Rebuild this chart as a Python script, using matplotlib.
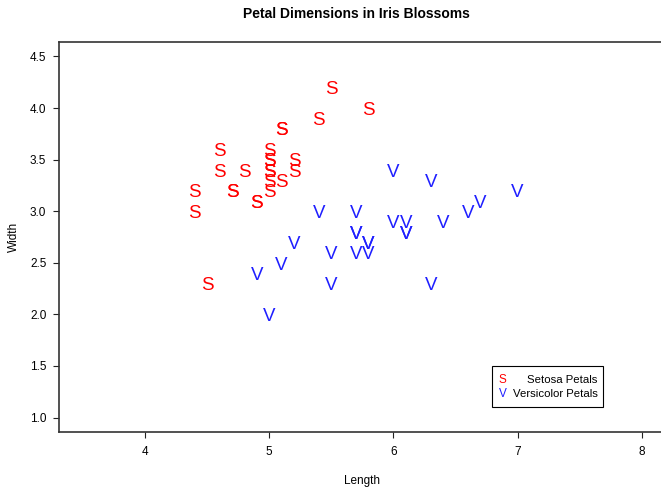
import matplotlib.pyplot as plt
from matplotlib import patches

plt.rcParams['font.family'] = ['Liberation Sans', 'DejaVu Sans']

# sampled sepal measurements (chart calls them petals)
setosa_len = [4.4, 4.4, 4.5, 4.6, 4.6, 4.7, 4.7, 4.8, 4.9, 4.9,
              5.0, 5.0, 5.0, 5.0, 5.0, 5.0, 5.0, 5.1, 5.1, 5.1,
              5.2, 5.2, 5.4, 5.5, 5.8]
setosa_wid = [3.2, 3.0, 2.3, 3.6, 3.4, 3.2, 3.2, 3.4, 3.1, 3.1,
              3.6, 3.5, 3.5, 3.4, 3.4, 3.3, 3.2, 3.8, 3.8, 3.3,
              3.5, 3.4, 3.9, 4.2, 4.0]
versi_len = [6.0, 6.3, 7.0, 6.7, 6.6, 5.4, 5.7, 6.0, 6.1, 6.1,
             6.1, 6.4, 5.7, 5.7, 5.8, 5.8, 5.2, 5.5, 5.7, 5.8,
             5.1, 4.9, 5.5, 6.3, 5.0]
versi_wid = [3.4, 3.3, 3.2, 3.1, 3.0, 3.0, 3.0, 2.9, 2.9, 2.8,
             2.8, 2.9, 2.8, 2.8, 2.7, 2.7, 2.7, 2.6, 2.6, 2.6,
             2.5, 2.4, 2.3, 2.3, 2.0]

x_ticks = [4, 5, 6, 7, 8]
y_ticks = [1.0, 1.5, 2.0, 2.5, 3.0, 3.5, 4.0, 4.5]

fig = plt.figure(figsize=(6.61, 4.88), dpi=100)
ax = fig.add_axes([59.3/661, 56/488, 604.9/661, 390/488])

sym_size = 13.5
def put_letters(xs, ys, letter, color):
    for x, y in zip(xs, ys):
        ax.annotate(letter, (x, y), xytext=(0, -0.36*sym_size), textcoords='offset points',
                    ha='center', va='baseline', fontsize=sym_size, color=color)

put_letters(setosa_len, setosa_wid, 'S', 'red')
put_letters(versi_len, versi_wid, 'V', '#1f1fff')

ax.set_xlim(3.31, 8.18)
ax.set_ylim(0.86, 4.64)
ax.set_xticks(x_ticks)
ax.set_xticklabels([str(t) for t in x_ticks])
ax.set_yticks(y_ticks)
ax.set_yticklabels(['%.1f' % t for t in y_ticks])
ax.tick_params(labelsize=8.5, length=4.3, width=0.8, color='#222222', pad=6)
ax.tick_params(axis='y', pad=5)
ax.spines['right'].set_visible(False)
for s in ['left', 'top', 'bottom']:
    ax.spines[s].set_linewidth(1.2)
    ax.spines[s].set_color('#333333')

ax.set_xlabel('Length', fontsize=8.5, labelpad=12)
ax.set_ylabel('Width', fontsize=8.5, labelpad=7)
fig.text(356/661, 1 - 14/488, 'Petal Dimensions in Iris Blossoms', fontsize=10,
         fontweight='bold', ha='center', va='center')

# legend box drawn by hand (R style)
box = patches.Rectangle((492/661, 81/488), 111.5/661, 41/488, transform=fig.transFigure,
                        fill=False, edgecolor='black', linewidth=0.8)
fig.add_artist(box)
fig.text(502.5/661, 1 - 380/488, 'S', color='red', fontsize=8.5, ha='center', va='center')
fig.text(502.5/661, 1 - 394/488, 'V', color='#1f1fff', fontsize=8.5, ha='center', va='center')
fig.text(597.5/661, 1 - 380/488, 'Setosa Petals', fontsize=8.2, ha='right', va='center')
fig.text(597.5/661, 1 - 394/488, 'Versicolor Petals', fontsize=8.2, ha='right', va='center')

fig.savefig('out.png', dpi=100)
